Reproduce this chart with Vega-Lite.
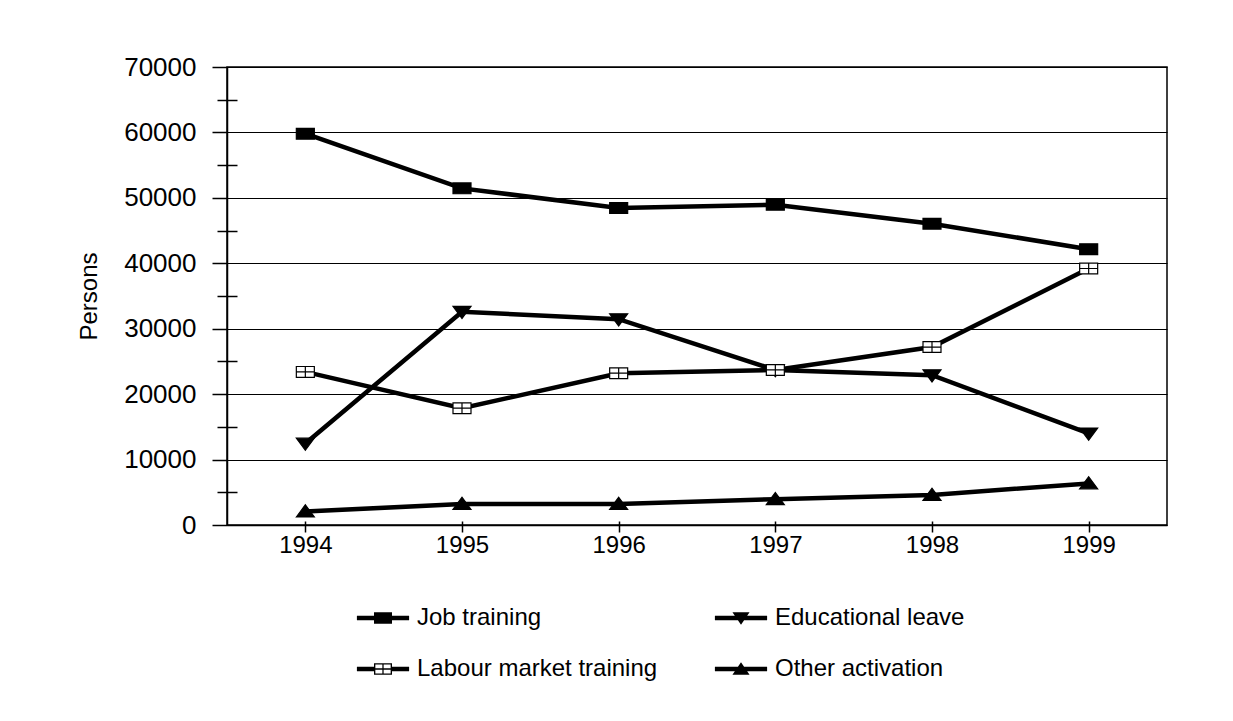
{
  "$schema": "https://vega.github.io/schema/vega-lite/v6.json",
  "width": 940,
  "height": 458,
  "autosize": "none",
  "padding": {"left": 227, "top": 67, "right": 66, "bottom": 196},
  "background": "white",
  "config": {
    "font": "Liberation Sans",
    "view": {"stroke": "black", "strokeWidth": 1.5},
    "axis": {"labelColor": "black", "titleColor": "black", "domainColor": "black", "tickColor": "black", "labelFont": "Liberation Sans", "titleFont": "Liberation Sans"}
  },
  "data": {
    "values": [
      {"series": "Job training", "year": "1994", "value": 59800},
      {"series": "Job training", "year": "1995", "value": 51450},
      {"series": "Job training", "year": "1996", "value": 48450},
      {"series": "Job training", "year": "1997", "value": 48950},
      {"series": "Job training", "year": "1998", "value": 46050},
      {"series": "Job training", "year": "1999", "value": 42150},
      {"series": "Educational leave", "year": "1994", "value": 12450},
      {"series": "Educational leave", "year": "1995", "value": 32600},
      {"series": "Educational leave", "year": "1996", "value": 31450},
      {"series": "Educational leave", "year": "1997", "value": 23700},
      {"series": "Educational leave", "year": "1998", "value": 22900},
      {"series": "Educational leave", "year": "1999", "value": 14000},
      {"series": "Labour market training", "year": "1994", "value": 23400},
      {"series": "Labour market training", "year": "1995", "value": 17850},
      {"series": "Labour market training", "year": "1996", "value": 23200},
      {"series": "Labour market training", "year": "1997", "value": 23700},
      {"series": "Labour market training", "year": "1998", "value": 27200},
      {"series": "Labour market training", "year": "1999", "value": 39200},
      {"series": "Other activation", "year": "1994", "value": 2050},
      {"series": "Other activation", "year": "1995", "value": 3200},
      {"series": "Other activation", "year": "1996", "value": 3200},
      {"series": "Other activation", "year": "1997", "value": 3950},
      {"series": "Other activation", "year": "1998", "value": 4600},
      {"series": "Other activation", "year": "1999", "value": 6350}
    ]
  },
  "resolve": {"scale": {"shape": "independent"}, "axis": {"x": "independent", "y": "independent"}},
  "layer": [
    {
      "mark": {"type": "line", "stroke": "black", "strokeWidth": 4.5},
      "encoding": {
        "x": {"field": "year", "type": "ordinal", "scale": {"type": "point", "padding": 0.5},
          "axis": {"orient": "bottom", "title": null, "labelAngle": 0, "labelFontSize": 24, "tickSize": 7, "tickWidth": 1.5, "labelPadding": 1, "domainWidth": 1.5, "grid": false}},
        "y": {"field": "value", "type": "quantitative", "scale": {"domain": [0, 70000], "nice": false},
          "axis": {"orient": "left", "values": [0, 10000, 20000, 30000, 40000, 50000, 60000, 70000], "format": "d", "grid": true, "gridColor": "black", "gridWidth": 1.2, "gridOpacity": 1, "tickSize": 15, "tickWidth": 1.5, "domainWidth": 1.5, "labelFontSize": 26, "labelPadding": 16, "title": "Persons", "titleFontSize": 24, "titleFontWeight": "normal", "titlePadding": 22}},
        "detail": {"field": "series"}
      }
    },
    {
      "mark": {"type": "point", "size": 324, "stroke": "black", "strokeWidth": 1.2, "opacity": 1},
      "encoding": {
        "x": {"field": "year", "type": "ordinal", "scale": {"type": "point", "padding": 0.5},
          "axis": {"orient": "bottom", "title": null, "labels": false, "domain": false, "grid": false, "tickSize": -4, "tickWidth": 1.5}},
        "y": {"field": "value", "type": "quantitative",
          "axis": {"orient": "left", "values": [5000, 15000, 25000, 35000, 45000, 55000, 65000], "labels": false, "domain": false, "grid": false, "title": null, "tickSize": 10, "tickWidth": 1.5}},
        "shape": {"field": "series", "type": "nominal", "legend": null,
          "scale": {"domain": ["Job training", "Educational leave", "Labour market training", "Other activation"],
            "range": ["M-1,-0.6H1V0.6H-1Z", "M-1,-0.6H1L0,0.75Z", "M-1,-0.6H1V0.6H-1Z M0,-0.6V0.6 M-1,0H1", "M-1,0.6L0,-0.75L1,0.6Z"]}},
        "fill": {"field": "series", "type": "nominal", "legend": null,
          "scale": {"domain": ["Job training", "Educational leave", "Labour market training", "Other activation"], "range": ["black", "black", "white", "black"]}}
      }
    },
    {
      "transform": [{"filter": "datum.value < 0"}],
      "mark": {"type": "point", "filled": true, "color": "black", "size": 324, "strokeWidth": 0, "opacity": 1},
      "encoding": {
        "x": {"field": "year", "type": "ordinal", "scale": {"type": "point", "padding": 0.5}, "axis": null},
        "y": {"field": "value", "type": "quantitative",
          "axis": {"orient": "left", "values": [5000, 15000, 25000, 35000, 45000, 55000, 65000], "labels": false, "domain": false, "grid": false, "title": null, "tickSize": -10, "tickWidth": 1.5}},
        "shape": {"field": "series", "type": "nominal",
          "scale": {"domain": ["Job training", "Labour market training", "Educational leave", "Other activation"],
            "range": [
              "M-2.9,-0.25H2.9V0.25H-2.9Z M-1,-0.65H1V0.65H-1Z",
              "M-2.9,-0.25H-1V0.25H-2.9Z M1,-0.25H2.9V0.25H1Z M-1,-0.65H1V0.65H-1Z M-0.85,-0.5V0.5H0.85V-0.5Z M-0.07,-0.5H0.07V0.5H-0.07Z M-0.85,-0.07H0.85V0.07H-0.85Z",
              "M-2.9,-0.25H2.9V0.25H-2.9Z M-0.95,-0.65H0.95L0,0.75Z",
              "M-2.9,-0.25H2.9V0.25H-2.9Z M-0.95,0.65L0,-0.75L0.95,0.65Z"
            ]},
          "legend": {"orient": "none", "legendX": 144, "legendY": 539, "columns": 2, "columnPadding": 56, "rowPadding": 27, "labelFontSize": 24, "labelFont": "Liberation Sans", "labelColor": "black", "labelOffset": 22, "labelLimit": 400, "symbolSize": 324, "symbolStrokeWidth": 0, "symbolFillColor": "black", "symbolOpacity": 1, "title": null, "padding": 0}}
      }
    }
  ]
}
